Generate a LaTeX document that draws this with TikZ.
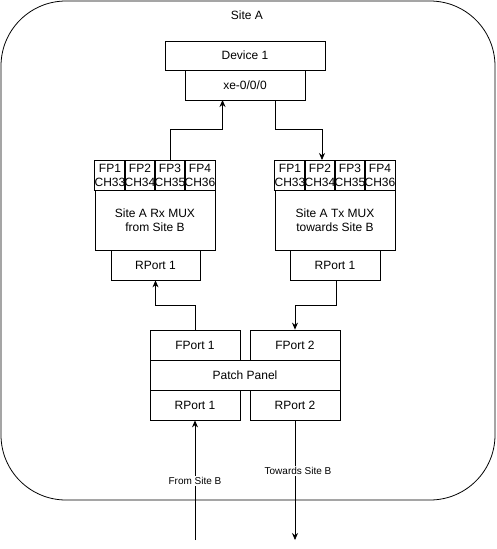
\documentclass[tikz,border=0pt]{standalone}
\usepackage{fontspec}
\setmainfont{Liberation Sans}
\usetikzlibrary{arrows.meta}
\begin{document}
\begin{tikzpicture}[x=1pt,y=-1pt,
  box/.style={draw,line width=0.8pt,font=\fontsize{12}{14}\selectfont},
  cell/.style={draw,line width=0.8pt,minimum width=30pt,minimum height=30pt,inner sep=0pt,align=center,font=\fontsize{12}{14}\selectfont},
  conn/.style={line width=0.8pt,-{Stealth[length=7pt,width=6pt]}},
  lbl/.style={fill=white,inner sep=1pt,font=\fontsize{10}{12}\selectfont}]
\useasboundingbox (0,0) rectangle (496,549);
\draw[line width=0.8pt,rounded corners=65pt] (1,1) rectangle (495,500);
\node[font=\fontsize{12}{14}\selectfont] (siteA) at (247,15) {Site A};
% Device
\node[box,minimum width=160pt,minimum height=29pt] (dev) at (245,55.5) {Device 1};
\node[box,minimum width=120pt,minimum height=30pt] (xe) at (245,85) {xe-0/0/0};
% Left MUX
\node[box,minimum width=120pt,minimum height=60pt,align=center] (rxmux) at (155,220) {Site A Rx MUX\\from Site B};
\node[cell] (l1) at (110,175) {FP1\\CH33};
\node[cell] (l2) at (140,175) {FP2\\CH34};
\node[cell] (l3) at (170,175) {FP3\\CH35};
\node[cell] (l4) at (200,175) {FP4\\CH36};
\node[box,minimum width=89pt,minimum height=30pt] (lrp) at (155.5,265) {RPort 1};
% Right MUX
\node[box,minimum width=120pt,minimum height=60pt,align=center] (txmux) at (335,220) {Site A Tx MUX\\towards Site B};
\node[cell] (r1) at (290,175) {FP1\\CH33};
\node[cell] (r2) at (320,175) {FP2\\CH34};
\node[cell] (r3) at (350,175) {FP3\\CH35};
\node[cell] (r4) at (380,175) {FP4\\CH36};
\node[box,minimum width=90pt,minimum height=30pt] (rrp) at (335,265) {RPort 1};
% Patch panel
\node[box,minimum width=90pt,minimum height=30pt] (fp1) at (195,345) {FPort 1};
\node[box,minimum width=90pt,minimum height=30pt] (fp2) at (295,345) {FPort 2};
\node[box,minimum width=190pt,minimum height=30pt] (pp) at (245,375) {Patch Panel};
\node[box,minimum width=90pt,minimum height=30pt] (rp1) at (195,405) {RPort 1};
\node[box,minimum width=90pt,minimum height=30pt] (rp2) at (295,405) {RPort 2};
% Connectors
\draw[conn] (l3.north) |- (222.5,129.5) -- (222.5,100);
\draw[conn] (275,100) |- (322,129.5) -- (322,160);
\draw[conn] (fp1.north) |- (155.5,305) -- (lrp.south);
\draw[conn] (336,280) |- (295,305) -- (fp2.north);
\coordinate (inB) at (195,540);
\coordinate (outB) at (295,540);
\draw[conn] (inB) -- (rp1.south);
\node[lbl] (fromB) at (195,481) {From Site B};
\draw[conn] (rp2.south) -- (outB);
\node[lbl] (towB) at (298,471) {Towards Site B};
\end{tikzpicture}
\end{document}
